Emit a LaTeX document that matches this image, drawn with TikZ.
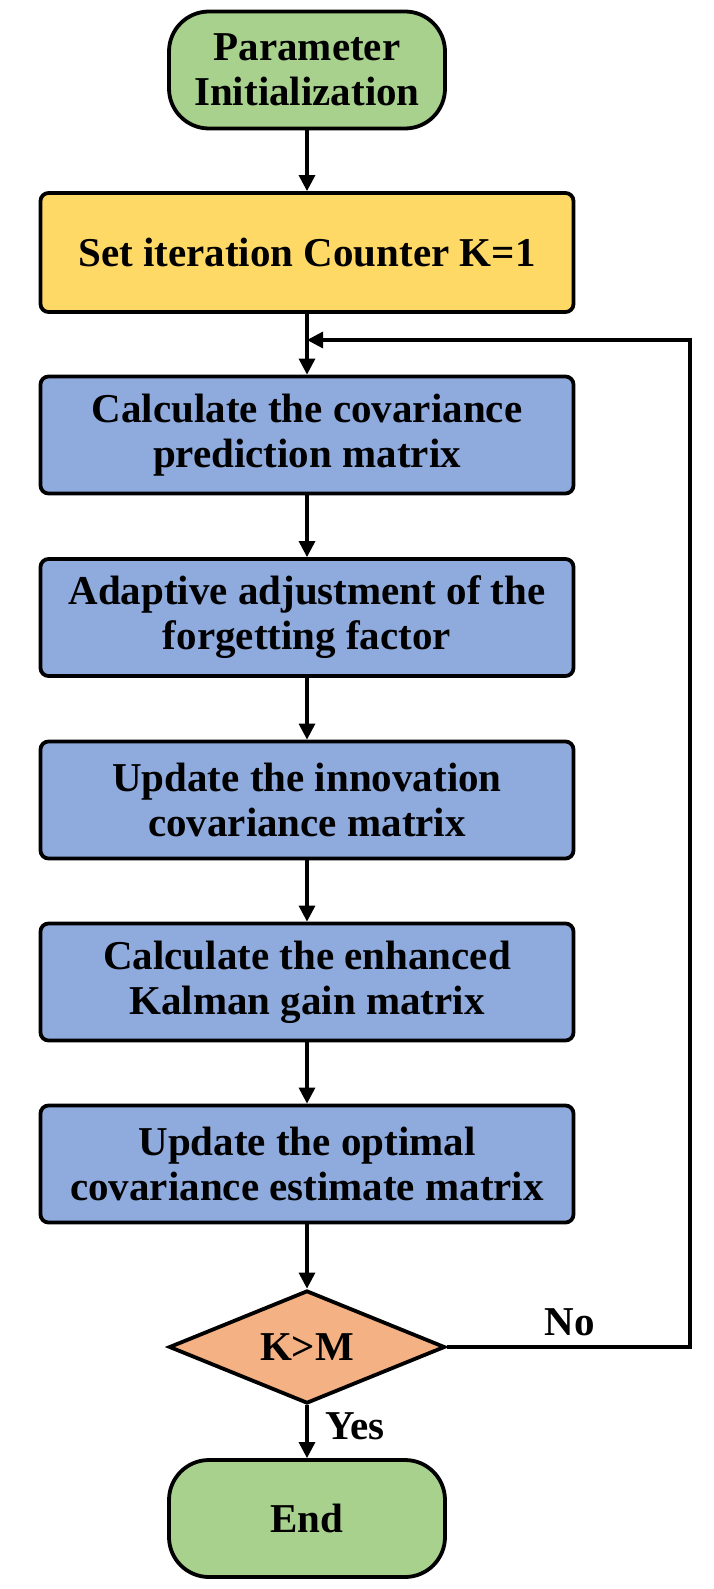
\documentclass[tikz,border=0pt]{standalone}
\usepackage{fontspec}
\setmainfont{Liberation Serif}
\usetikzlibrary{arrows.meta, positioning, shapes.geometric}
\definecolor{termGreen}{HTML}{A9D18E}
\definecolor{initYellow}{HTML}{FFD966}
\definecolor{stepBlue}{HTML}{8FAADC}
\definecolor{testOrange}{HTML}{F4B183}

\begin{document}
\begin{tikzpicture}[x=0.5pt, y=-0.5pt,
    card/.style={draw, line width=1.9pt, rounded corners=4pt, fill=stepBlue,
                 minimum width=266.5pt, minimum height=58.5pt, inner sep=2pt,
                 align=center, font=\fontsize{20.5}{22.5}\selectfont\bfseries},
    term/.style={card, rounded corners=20pt, fill=termGreen,
                 minimum width=138pt},
    check/.style={diamond, draw, line width=1.9pt, fill=testOrange,
                  aspect=2.44, minimum width=138pt, minimum height=56.5pt,
                  inner sep=0pt, font=\fontsize{20.5}{22.5}\selectfont\bfseries},
    lbl/.style={inner sep=0pt, font=\fontsize{20.5}{22.5}\selectfont\bfseries},
    arr/.style={-{Triangle[length=8pt, width=8pt]}, line width=1.6pt}
  ]
    \useasboundingbox (0,0) rectangle (713,1589);
    \node[term] (start) at (307, 70) {Parameter\\Initialization};
    \node[card, fill=initYellow, minimum height=59.5pt] (init) at (307, 252.5)
      {Set iteration Counter K=1};
    \node[card] (pred) at (307, 435) {Calculate the covariance\\prediction matrix};
    \node[card] (forget) at (307, 617.5) {Adaptive adjustment of the\\forgetting factor};
    \node[card] (innov) at (307, 800) {Update the innovation\\covariance matrix};
    \node[card] (gain) at (307, 982) {Calculate the enhanced\\Kalman gain matrix};
    \node[card] (optim) at (307, 1164) {Update the optimal\\covariance estimate matrix};
    \node[check] (test) at (307, 1347) {K>M};
    \node[term] (finish) at (307, 1518.5) {End};
    \coordinate (join) at (307, 340);
    \coordinate (loopTop) at (690, 340);
    \draw[arr] (start.south) -- (init.north);
    \draw[arr] (init.south) -- (pred.north);
    \draw[arr] (pred.south) -- (forget.north);
    \draw[arr] (forget.south) -- (innov.north);
    \draw[arr] (innov.south) -- (gain.north);
    \draw[arr] (gain.south) -- (optim.north);
    \draw[arr] (optim.south) -- (test.north);
    \draw[arr] (test.south) -- (finish.north);
    \draw[arr] (test.east) -| (loopTop) -- (join);
    \node[lbl] (noLbl) at (570, 1322) {No};
    \node[lbl] (yesLbl) at (355, 1426) {Yes};
  \end{tikzpicture}
\end{document}
